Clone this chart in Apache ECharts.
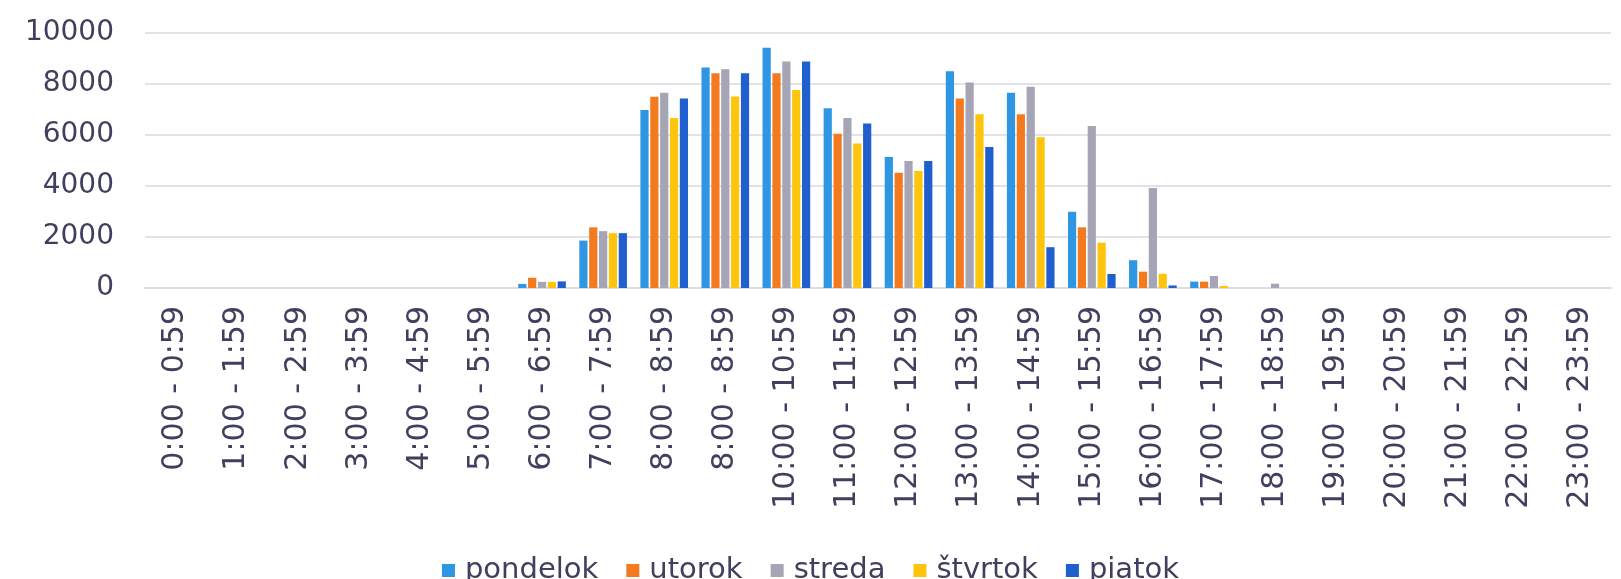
<!DOCTYPE html>
<html>
<head>
<meta charset="utf-8">
<script src="https://cdn.jsdelivr.net/npm/echarts@6/dist/echarts.min.js"></script>
<style>
  html, body { margin: 0; padding: 0; background: #fff; }
  #chart { width: 1621px; height: 579px; }
</style>
</head>
<body>
<div id="chart"></div>
<script>
var hours = ['0:00 - 0:59', '1:00 - 1:59', '2:00 - 2:59', '3:00 - 3:59', '4:00 - 4:59', '5:00 - 5:59',
    '6:00 - 6:59', '7:00 - 7:59', '8:00 - 8:59', '8:00 - 8:59', '10:00 - 10:59', '11:00 - 11:59',
    '12:00 - 12:59', '13:00 - 13:59', '14:00 - 14:59', '15:00 - 15:59', '16:00 - 16:59', '17:00 - 17:59',
    '18:00 - 18:59', '19:00 - 19:59', '20:00 - 20:59', '21:00 - 21:59', '22:00 - 22:59', '23:00 - 23:59'];

var pondelok = [0, 0, 0, 0, 0, 0, 160, 1860, 6980, 8650, 9420, 7050, 5140, 8500, 7660, 2990, 1090, 250, 0, 0, 0, 0, 0, 0];
var utorok   = [0, 0, 0, 0, 0, 0, 400, 2380, 7500, 8420, 8420, 6050, 4520, 7430, 6810, 2380, 640, 250, 0, 0, 0, 0, 0, 0];
var streda   = [0, 0, 0, 0, 0, 0, 240, 2230, 7660, 8580, 8880, 6670, 4980, 8060, 7890, 6350, 3920, 470, 170, 0, 0, 0, 0, 0];
var stvrtok  = [0, 0, 0, 0, 0, 0, 240, 2150, 6670, 7510, 7760, 5670, 4590, 6810, 5910, 1780, 560, 80, 0, 0, 0, 0, 0, 0];
var piatok   = [0, 0, 0, 0, 0, 0, 260, 2150, 7430, 8420, 8880, 6450, 4980, 5530, 1600, 550, 100, 0, 0, 0, 0, 0, 0, 0];

var names = ['pondelok', 'utorok', 'streda', 'štvrtok', 'piatok'];
var colors = ['#2f96e4', '#f47a1f', '#a5a5b5', '#ffc40c', '#1f5fce'];
var values = [pondelok, utorok, streda, stvrtok, piatok];

var textColor = '#40405e';
var font = 'DejaVu Sans';

var myChart = echarts.init(document.getElementById('chart'));
var option = {
    animation: false,
    color: colors,
    textStyle: { fontFamily: font },
    grid: {
        left: 145,
        right: 10,
        top: 33,
        bottom: 291,
        outerBoundsMode: 'none'
    },
    legend: {
        left: 'center',
        top: 551,
        itemWidth: 13,
        itemHeight: 13,
        itemGap: 28,
        icon: 'rect',
        textStyle: { fontSize: 29, color: textColor, fontFamily: font, padding: [0, 0, 0, 5] },
        data: names
    },
    xAxis: {
        type: 'category',
        data: hours,
        axisLine: { lineStyle: { color: '#dcdce4', width: 2 } },
        axisTick: { show: false },
        axisLabel: {
            rotate: 90,
            interval: 0,
            margin: 18,
            fontSize: 30,
            color: textColor,
            fontFamily: font
        }
    },
    yAxis: {
        type: 'value',
        min: 0,
        max: 10000,
        interval: 2000,
        axisLine: { show: false },
        axisTick: { show: false },
        axisLabel: {
            fontSize: 28,
            color: textColor,
            margin: 31,
            fontFamily: font,
            formatter: function (v) { return String(v); }
        },
        splitLine: { lineStyle: { color: '#e2e2e8', width: 2 } }
    },
    series: names.map(function (n, i) {
        return {
            name: n,
            type: 'bar',
            data: values[i],
            barGap: '20%',
            barCategoryGap: '22%'
        };
    })
};
myChart.setOption(option);
</script>
</body>
</html>
